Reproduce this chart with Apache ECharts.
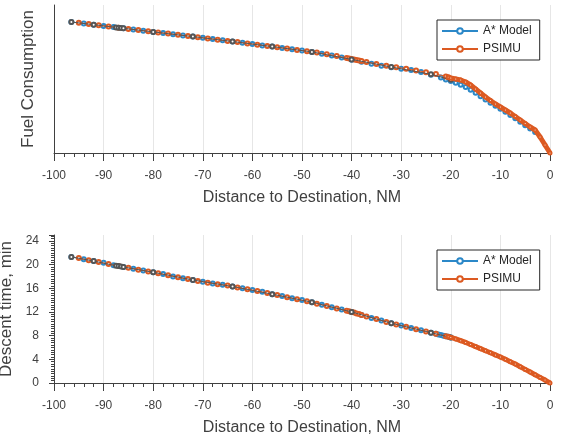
<!DOCTYPE html>
<html>
<head>
<meta charset="utf-8">
<script src="https://cdn.jsdelivr.net/npm/echarts@6/dist/echarts.min.js"></script>
<style>
  html, body { margin: 0; padding: 0; background: #fff; }
  #chart { width: 564px; height: 439px; }
</style>
</head>
<body>
<div id="chart"></div>
<script>
// distance ticks shared by both panels
const distanceTicks = [-100, -90, -80, -70, -60, -50, -40, -30, -20, -10, 0]
const descentTicks = [0, 4, 8, 12, 16, 20, 24]

// top panel: fuel consumption (unlabelled axis, relative units)
const fuelAstarX = [-96.5, -94, -92, -90, -88, -86, -84, -82, -80, -78, -76, -74, -72, -70, -68, -66, -64, -62, -60, -58, -56, -54, -52, -50, -48, -46, -44, -42, -40, -38, -36, -34, -32, -30, -28, -26, -24, -22, -21, -20, -19, -18, -17, -16, -15, -14, -13, -12, -11, -10, -9, -8, -7, -6, -5, -4, -3]
const fuelAstarY = [1310, 1295, 1283, 1271, 1259, 1247, 1235, 1223, 1211, 1199, 1188, 1176, 1164, 1152, 1139, 1127, 1115, 1102, 1089, 1076, 1064, 1051, 1037, 1024, 1011, 993, 975, 955, 933, 913, 893, 873, 857, 843, 830, 810, 783, 755, 735, 720, 702, 683, 660, 632, 602, 567, 535, 503, 472, 442, 412, 381, 347, 312, 277, 245, 210]

const fuelPsimuX = [-95, -93, -91, -89, -87, -85, -83, -81, -79, -77, -75, -73, -71, -69, -67, -65, -63, -61, -59, -57, -55, -53, -51, -49, -47, -45, -43, -41, -40.5, -40, -39.5, -39, -38.5, -38, -37, -35, -33, -31, -29, -27, -25, -23, -21, -20.5]
const fuelPsimuY = [1303, 1289, 1277, 1265, 1253, 1241, 1229, 1217, 1205, 1194, 1182, 1170, 1158, 1146, 1133, 1121, 1109, 1096, 1083, 1070, 1058, 1044, 1031, 1018, 1004, 988, 970, 950, 945, 940, 935, 931, 926, 921, 911, 891, 873, 858, 843, 826, 808, 790, 766, 757]
const fuelPsimuDenseX = [-20.5, -20, -19, -18, -17, -16, -15, -14, -13, -12, -11, -10, -9, -8, -7, -6, -5, -4, -3, -2, -1, 0]
const fuelPsimuDenseY = [757, 750, 740, 730, 710, 680, 640, 600, 560, 525, 490, 460, 430, 400, 365, 330, 295, 260, 230, 160, 80, 0]

const fuelTrackX = [-96.5, -92, -87.5, -87, -86.5, -86, -80, -72, -64, -56, -48, -40, -32, -24, -20]
const fuelTrackY = [1310, 1283, 1256, 1253, 1250, 1247, 1211, 1164, 1115, 1064, 1011, 936, 860, 787, 732]

// bottom panel: descent time, min
const timeAstarX = [-96.5, -94, -92, -90, -88, -86, -84, -82, -80, -78, -76, -74, -72, -70, -68, -66, -64, -62, -60, -58, -56, -54, -52, -50, -48, -46, -44, -42, -40, -38, -36, -34, -32, -30, -28, -26, -24, -23, -22.5, -22, -21.5, -21, -20.5, -20]
const timeAstarY = [21.3, 20.9, 20.6, 20.3, 19.9, 19.6, 19.3, 19.0, 18.7, 18.4, 18.0, 17.7, 17.4, 17.1, 16.8, 16.6, 16.3, 16.0, 15.7, 15.4, 15.0, 14.7, 14.3, 14.0, 13.65, 13.2, 12.8, 12.4, 12.0, 11.5, 11.0, 10.55, 10.1, 9.7, 9.3, 8.9, 8.5, 8.3, 8.2, 8.1, 8.0, 7.9, 7.8, 7.7]

const timePsimuX = [-95, -93, -91, -89, -87, -85, -83, -81, -79, -77, -75, -73, -71, -69, -67, -65, -63, -61, -59, -57, -55, -53, -51, -49, -47, -45, -43, -41, -40.5, -40, -39.5, -39, -38.5, -38, -37, -35, -33, -31, -29, -27, -25, -23, -21, -20.5]
const timePsimuY = [21.1, 20.75, 20.45, 20.1, 19.75, 19.45, 19.15, 18.85, 18.55, 18.2, 17.85, 17.55, 17.25, 16.95, 16.7, 16.45, 16.15, 15.85, 15.55, 15.2, 14.85, 14.5, 14.15, 13.8, 13.4, 13.0, 12.6, 12.2, 12.1, 12.0, 11.9, 11.75, 11.65, 11.5, 11.25, 10.8, 10.3, 9.9, 9.5, 9.1, 8.7, 8.3, 7.9, 7.8]
const timePsimuDenseX = [-20.5, -20, -19, -18, -17, -16, -15, -14, -13, -12, -11, -10, -9, -8, -7, -6, -5, -4, -3, -2, -1, 0]
const timePsimuDenseY = [7.8, 7.7, 7.45, 7.15, 6.85, 6.5, 6.15, 5.8, 5.45, 5.1, 4.75, 4.4, 4.0, 3.6, 3.2, 2.75, 2.3, 1.85, 1.4, 0.95, 0.5, 0]

const timeTrackX = [-96.5, -92, -87.5, -87, -86.5, -86, -80, -72, -64, -56, -48, -40, -32, -24, -20]
const timeTrackY = [21.3, 20.6, 19.8, 19.75, 19.68, 19.6, 18.7, 17.4, 16.3, 15.0, 13.65, 12.0, 10.1, 8.5, 7.7]

const FONT = 'Liberation Sans'
const TEXT = '#404040'
const BLUE = '#2b88c8'
const ORANGE = '#dc5a22'
const DARK = '#555555'

const zip = (xs, ys) => xs.map((x, i) => [x, ys[i]])

function distanceAxis(gridIndex) {
  return {
    type: 'value',
    gridIndex,
    min: distanceTicks[0],
    max: distanceTicks[distanceTicks.length - 1],
    interval: distanceTicks[1] - distanceTicks[0],
    name: 'Distance to Destination, NM',
    nameLocation: 'middle',
    nameGap: 37,
    nameTextStyle: { color: TEXT, fontSize: 16, fontFamily: FONT },
    axisLine: { onZero: false, lineStyle: { color: TEXT, width: 1 } },
    axisTick: { length: 8, lineStyle: { color: TEXT } },
    minorTick: { show: true, splitNumber: 5, length: 4, lineStyle: { color: TEXT } },
    axisLabel: { margin: 17, color: TEXT, fontSize: 12, fontFamily: FONT },
    splitLine: { show: true, lineStyle: { color: '#e6e6e6' } },
  }
}

function lineSeries(name, data, opts) {
  return {
    name,
    type: 'line',
    data,
    xAxisIndex: opts.grid,
    yAxisIndex: opts.grid,
    symbol: 'emptyCircle',
    symbolSize: opts.size || 4,
    showAllSymbol: true,
    z: opts.z,
    lineStyle: { color: opts.color, width: opts.width || 1 },
    itemStyle: { color: opts.color, borderWidth: 0.8 },
    emphasis: { disabled: true },
  }
}

function legendAt(top) {
  return {
    orient: 'vertical',
    left: 437,
    top,
    data: ['A* Model', 'PSIMU'],
    padding: [5, 8, 5, 4],
    itemGap: 6,
    itemWidth: 36,
    itemHeight: 7,
    backgroundColor: '#fff',
    borderColor: '#262626',
    borderWidth: 1,
    borderRadius: 0,
    textStyle: { color: '#262626', fontSize: 12, fontFamily: FONT },
  }
}

const chart = echarts.init(document.getElementById('chart'), null, { renderer: 'canvas' })

chart.setOption({
  animation: false,
  backgroundColor: '#fff',
  textStyle: { fontFamily: FONT },
  grid: [
    { left: 54, top: 5, width: 496, height: 148, outerBoundsMode: 'none' },
    { left: 54, top: 235, width: 496, height: 148, outerBoundsMode: 'none' },
  ],
  legend: [legendAt(20), legendAt(250)],
  xAxis: [distanceAxis(0), distanceAxis(1)],
  yAxis: [
    {
      type: 'value',
      gridIndex: 0,
      min: 0,
      max: 1480,
      name: 'Fuel Consumption',
      nameLocation: 'middle',
      nameGap: 17,
      nameTextStyle: { color: TEXT, fontSize: 17, fontFamily: FONT },
      axisLine: { show: true, onZero: false, lineStyle: { color: TEXT } },
      axisTick: { show: false },
      axisLabel: { show: false },
      splitLine: { show: false },
    },
    {
      type: 'value',
      gridIndex: 1,
      min: descentTicks[0],
      max: 25,
      interval: descentTicks[1] - descentTicks[0],
      name: 'Descent time, min',
      nameLocation: 'middle',
      nameGap: 34,
      nameTextStyle: { color: TEXT, fontSize: 17, fontFamily: FONT },
      axisLine: { show: true, onZero: false, lineStyle: { color: TEXT } },
      axisTick: { length: 5, lineStyle: { color: TEXT } },
      minorTick: { show: true, splitNumber: 10, length: 3, lineStyle: { color: TEXT } },
      axisLabel: { margin: 15, color: TEXT, fontSize: 12, fontFamily: FONT, showMaxLabel: false },
      splitLine: { show: false },
    },
  ],
  series: [
    lineSeries('A* Model', zip(fuelAstarX, fuelAstarY), { grid: 0, color: BLUE, z: 2 }),
    lineSeries('PSIMU', zip(fuelPsimuX, fuelPsimuY), { grid: 0, color: ORANGE, z: 3 }),
    lineSeries('Track', zip(fuelTrackX, fuelTrackY), { grid: 0, color: DARK, z: 4 }),
    lineSeries('PSIMU', zip(fuelPsimuDenseX, fuelPsimuDenseY), { grid: 0, color: ORANGE, width: 5, size: 3, z: 5 }),

    lineSeries('A* Model', zip(timeAstarX, timeAstarY), { grid: 1, color: BLUE, z: 2 }),
    lineSeries('PSIMU', zip(timePsimuX, timePsimuY), { grid: 1, color: ORANGE, z: 3 }),
    lineSeries('Track', zip(timeTrackX, timeTrackY), { grid: 1, color: DARK, z: 4 }),
    lineSeries('PSIMU', zip(timePsimuDenseX, timePsimuDenseY), { grid: 1, color: ORANGE, width: 5, size: 3, z: 5 }),
  ],
})
</script>
</body>
</html>
